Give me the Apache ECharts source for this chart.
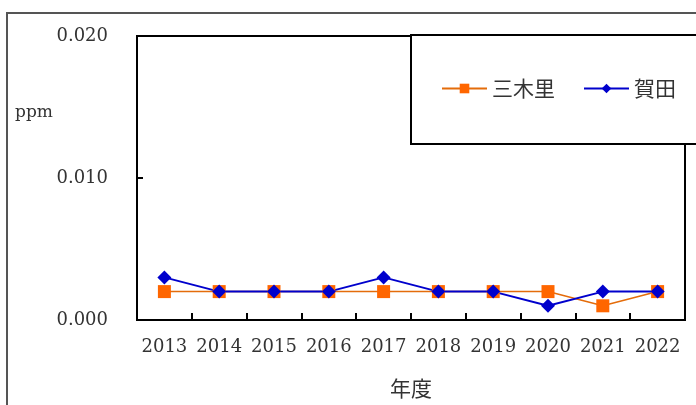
<!DOCTYPE html>
<html>
<head>
<meta charset="utf-8">
<script src="https://cdn.jsdelivr.net/npm/echarts@6/dist/echarts.min.js"></script>
<style>
  html, body { margin: 0; padding: 0; background: #fff; }
  #main { width: 696px; height: 405px; }
</style>
</head>
<body>
<div id="main"></div>
<script>
// データ
var years = ['2013', '2014', '2015', '2016', '2017', '2018', '2019', '2020', '2021', '2022'];
var mikiri = [0.002, 0.002, 0.002, 0.002, 0.002, 0.002, 0.002, 0.002, 0.001, 0.002];
var kata = [0.003, 0.002, 0.002, 0.002, 0.003, 0.002, 0.002, 0.001, 0.002, 0.002];
var yTicks = [0, 0.010, 0.020];

var numFont = 'DejaVu Serif';
var jpFont = 'Noto Sans CJK JP';

var myChart = echarts.init(document.getElementById('main'));

var option = {
    animation: false,
    backgroundColor: '#fff',
    // 外枠・凡例枠・単位
    graphic: [
        {
            type: 'rect', z: -1,
            shape: { x: 7, y: 13, width: 760, height: 460 },
            style: { fill: null, stroke: '#555', lineWidth: 2 }
        },
        {
            type: 'rect', z: 10,
            shape: { x: 411, y: 35, width: 320, height: 109 },
            style: { fill: '#fff', stroke: '#000', lineWidth: 2 }
        },
        {
            type: 'text', left: 15, top: 104,
            style: { text: 'ppm', font: '17px "DejaVu Serif"', fill: '#333' }
        }
    ],
    grid: {
        left: 137, top: 36, right: 11, bottom: 85,
        show: true, borderColor: '#000', borderWidth: 2
    },
    legend: {
        left: 441, top: 78, z: 20,
        orient: 'horizontal',
        padding: 0,
        itemWidth: 45, itemHeight: 12, itemGap: 28,
        textStyle: { fontFamily: jpFont, fontSize: 21, color: '#333' },
        data: ['三木里', '賀田']
    },
    xAxis: {
        type: 'category',
        data: years,
        boundaryGap: true,
        name: '年度',
        nameLocation: 'middle',
        nameGap: 58,
        nameTextStyle: { fontFamily: jpFont, fontSize: 21, color: '#333' },
        axisLine: { lineStyle: { color: '#000', width: 2 } },
        axisTick: { show: true, alignWithLabel: false, interval: 0, inside: true, length: 7, lineStyle: { color: '#000', width: 2 } },
        axisLabel: { interval: 0, fontFamily: numFont, fontSize: 18, color: '#333', margin: 18 }
    },
    yAxis: {
        type: 'value',
        min: yTicks[0], max: yTicks[yTicks.length - 1], interval: 0.010,
        splitLine: { show: false },
        axisLine: { show: true, lineStyle: { color: '#000', width: 2 } },
        axisTick: { show: true, inside: true, length: 6, lineStyle: { color: '#000', width: 2 } },
        axisLabel: {
            fontFamily: numFont, fontSize: 18, color: '#333', margin: 29,
            formatter: function (v) { return v.toFixed(3); }
        }
    },
    series: [
        {
            name: '三木里', type: 'line', data: mikiri,
            symbol: 'rect', symbolSize: 13,
            itemStyle: { color: '#FF6600' },
            lineStyle: { color: '#E46C0A', width: 1.5 }
        },
        {
            name: '賀田', type: 'line', data: kata,
            symbol: 'diamond', symbolSize: 14,
            itemStyle: { color: '#0000CC' },
            lineStyle: { color: '#0000CC', width: 2 }
        }
    ]
};

myChart.setOption(option);
</script>
</body>
</html>
